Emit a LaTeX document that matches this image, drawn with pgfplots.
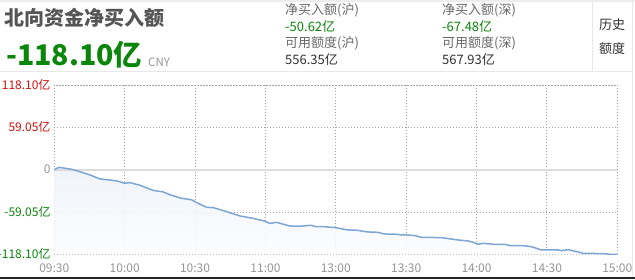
\documentclass[border=0pt]{standalone}
\usepackage{fontspec}
\setmainfont{Noto Sans CJK SC}
\usepackage{pgfplots}
\usepackage{pgfplotstable}
\pgfplotsset{compat=1.18}

\definecolor{lineblue}{RGB}{125,166,212}
\definecolor{fillblue}{RGB}{237,243,250}
\definecolor{fillbot}{RGB}{252,253,254}
\definecolor{gridgray}{RGB}{165,165,165}
\definecolor{txtgray}{RGB}{150,150,150}
\definecolor{lblgray}{RGB}{105,105,105}
\definecolor{dkgray}{RGB}{85,85,85}
\definecolor{valdark}{RGB}{50,50,50}
\definecolor{cngreen}{RGB}{10,135,10}
\definecolor{cnred}{RGB}{215,15,15}
\definecolor{sepgray}{RGB}{232,232,232}
\definecolor{zerogray}{RGB}{220,220,220}

\pgfplotstableread{
t v
0 0
2 3.2
4.5 2
7.4 0.5
10.9 -2.8
15.2 -7.4
19.5 -13
23.7 -14.4
27 -16
30 -19
32.2 -18
36.5 -21.8
42.2 -29
46.4 -31
49.3 -35
54.3 -40
58.5 -42
60.7 -46
64.9 -52.5
67.8 -53
73.5 -58.6
79.1 -64.6
84.8 -68
89.5 -71.6
91.9 -75
94.7 -73.5
100.4 -78.6
104.7 -79
109.3 -77.6
111.5 -79.5
115 -79.5
117.9 -80.4
120 -80.9
125 -84.1
129.2 -84.6
133.5 -86.9
137.8 -87.4
140.6 -89.7
146.3 -90.2
147.7 -91.1
150 -91.1
153.7 -92
156.5 -94.4
165 -94.8
167.9 -96.2
172.1 -98.1
176.4 -99.5
178.5 -101.3
180.7 -104.1
182.8 -102.7
187.1 -104.1
192 -104.1
194.1 -106
199.1 -106
203.4 -107.4
207.6 -112
214.8 -112
216.2 -113
219 -111.6
223.3 -114.8
225.4 -116.7
234.6 -117.2
236.8 -118.1
240 -118.1
}\flowdata

\begin{document}
\begin{tikzpicture}[x=1pt,y=1pt]
\clip (0,0) rectangle (635,279);
\fill[white] (0,0) rectangle (635,279);
% frame elements
\fill[sepgray!80] (0,277) rectangle (635,279);
\draw[sepgray, line width=1pt] (0,207) -- (632.5,207);
\draw[sepgray, line width=1pt] (592.5,277) -- (592.5,207);
\draw[sepgray, line width=1pt] (632.5,279) -- (632.5,2.5);
\fill[black!86] (0,0) rectangle (635,2.4);

% header
\node[anchor=west, inner sep=0pt] at (4,261.5) {\fontsize{20}{20}\selectfont\bfseries\color{dkgray}北向资金净买入额};
\node[anchor=west, inner sep=0pt] at (6,224) {\fontsize{28.5}{30}\selectfont\bfseries\color{cngreen}-118.10亿};
\node[anchor=west, inner sep=0pt] at (148,217) {\fontsize{11.5}{12}\selectfont\color{txtgray}CNY};

\node[anchor=west, inner sep=0pt] at (285,269) {\fontsize{13}{13}\selectfont\color{lblgray}净买入额(沪)};
\node[anchor=west, inner sep=0pt] at (285,252) {\fontsize{13}{13}\selectfont\color{cngreen}-50.62亿};
\node[anchor=west, inner sep=0pt] at (285,236) {\fontsize{13}{13}\selectfont\color{lblgray}可用额度(沪)};
\node[anchor=west, inner sep=0pt] at (285,219) {\fontsize{13}{13}\selectfont\color{valdark}556.35亿};

\node[anchor=west, inner sep=0pt] at (442,269) {\fontsize{13}{13}\selectfont\color{lblgray}净买入额(深)};
\node[anchor=west, inner sep=0pt] at (442,252) {\fontsize{13}{13}\selectfont\color{cngreen}-67.48亿};
\node[anchor=west, inner sep=0pt] at (442,236) {\fontsize{13}{13}\selectfont\color{lblgray}可用额度(深)};
\node[anchor=west, inner sep=0pt] at (442,219) {\fontsize{13}{13}\selectfont\color{valdark}567.93亿};

\node[anchor=west, inner sep=0pt] at (599,254) {\fontsize{13}{13}\selectfont\color{valdark}历史};
\node[anchor=west, inner sep=0pt] at (599,230) {\fontsize{13}{13}\selectfont\color{valdark}额度};

\begin{axis}[
  at={(54.3pt,24.7pt)}, anchor=south west,
  scale only axis, width=563pt, height=169.3pt,
  xmin=0, xmax=240, ymin=-118.1, ymax=118.1,
  xtick={0,30,60,90,120,150,180,210,240},
  xticklabels={09:30,10:00,10:30,11:00,13:00,13:30,14:00,14:30,15:00},
  ytick={-118.1,-59.05,0,59.05,118.1},
  yticklabels={\textcolor{cngreen}{-118.10亿},\textcolor{cngreen}{-59.05亿},\textcolor{txtgray}{0},\textcolor{cnred}{59.05亿},\textcolor{cnred}{118.10亿}},
  major tick length=0pt,
  axis line style={gridgray, dash pattern=on 1pt off 2pt, line width=0.9pt},
  xmajorgrids, ymajorgrids,
  grid style={gridgray, dash pattern=on 1pt off 2pt, line width=0.9pt},
  tick label style={font=\fontsize{12}{12}\selectfont},
  xticklabel style={txtgray, anchor=base, yshift=-18pt},
  yticklabel style={anchor=east, inner sep=0pt, xshift=-3.6pt},
  /pgf/number format/assume math mode=true,
]
\addplot[top color=fillblue, bottom color=fillbot, fill opacity=0.85, draw=none, forget plot] table[x=t, y=v] {\flowdata} -- (axis cs:240,-118.1) -- (axis cs:0,-118.1) -- cycle;
\addplot[zerogray, line width=2.2pt, forget plot] coordinates {(0,0) (240,0)};
\addplot[draw=lineblue, line width=1.5pt] table[x=t, y=v] {\flowdata};
\end{axis}
\end{tikzpicture}
\end{document}
